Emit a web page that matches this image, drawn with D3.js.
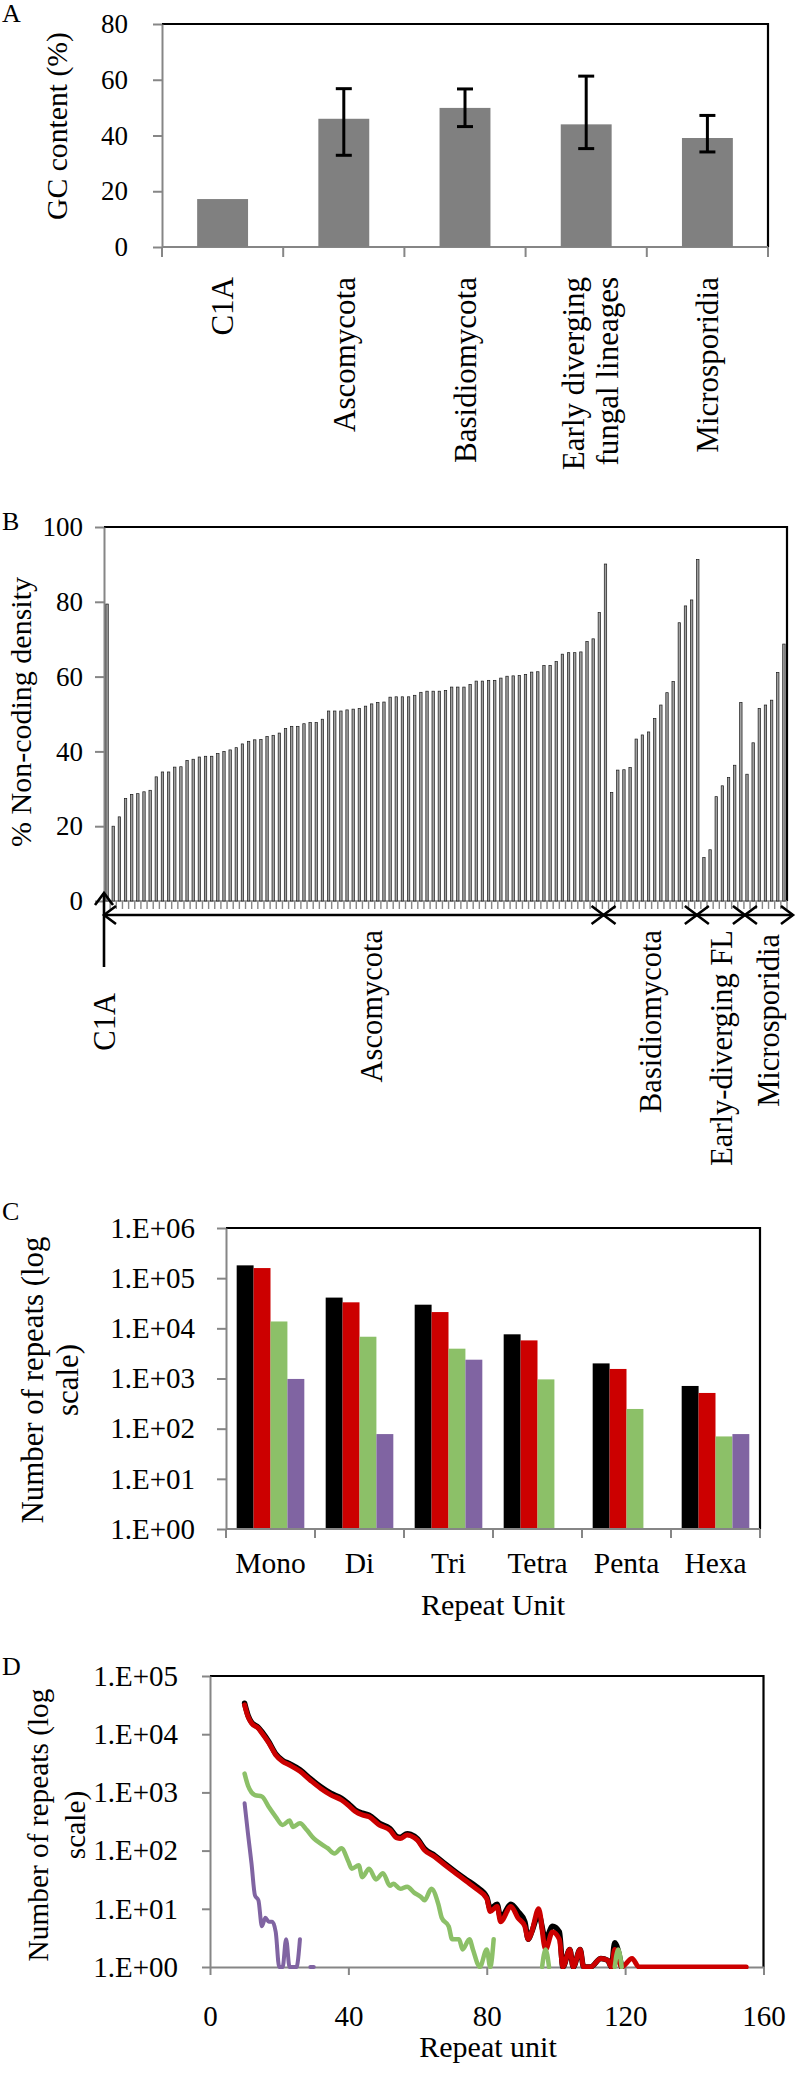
<!DOCTYPE html>
<html><head><meta charset="utf-8">
<script src="https://cdn.jsdelivr.net/npm/d3@7"></script>
<style>
body{margin:0;background:#fff}
svg text{font-family:"Liberation Serif","Times New Roman",serif;fill:#000}
</style></head><body>
<svg id="fig" width="800" height="2079"></svg>
<script>
// ---------- Panel A data ----------
const gcCategories = ["C1A","Ascomycota","Basidiomycota","Early diverging|fungal lineages","Microsporidia"];
const gcMean = [17.2, 46.0, 49.9, 44.0, 39.1];
const gcHigh = [null, 56.8, 56.7, 61.3, 47.2];
const gcLow  = [null, 32.9, 43.2, 35.3, 34.1];
const gcTicks = [0, 20, 40, 60, 80];

// ---------- Panel B data ----------
const ncGroups = ["C1A","Ascomycota","Basidiomycota","Early-diverging FL","Microsporidia"];
const ncC1A = [79.4];
const ncAscomycota = [20.0,22.5,27.4,28.5,28.7,29.2,29.6,33.2,34.5,34.5,35.8,35.9,37.6,37.9,38.5,38.7,38.7,39.4,40.0,40.4,
  41.0,42.0,42.7,43.1,43.2,44.0,44.3,44.9,46.1,46.7,46.7,47.4,47.7,47.7,48.6,50.8,50.8,50.8,51.1,51.3,
  51.5,52.1,52.7,53.1,53.2,54.5,54.6,54.6,54.6,55.0,55.8,
  56.1,56.1,56.1,56.3,57.2,57.2,57.2,57.9,58.8,58.8,59.0,59.0,59.6,60.1,60.2,60.3,60.6,61.2,61.3,63.0,
  63.0,64.0,66.0,66.4,66.4,66.6,69.4,70.1,77.1,90.1];
const ncBasidiomycota = [29.0,35.0,35.1,35.7,43.3,44.4,45.2,48.8,52.4,55.7,58.7,74.4,78.9,80.5,91.3];
const ncEarlyFL = [11.6,13.7,27.9,30.8,33.0,36.3,53.1];
const ncMicrosporidia = [33.9,42.3,51.5,52.4,53.7,61.1,68.7];
const ncTicks = [0, 20, 40, 60, 80, 100];

// ---------- Panel C data ----------
const repeatUnits = ["Mono","Di","Tri","Tetra","Penta","Hexa"];
const repBlack  = [180000, 41000, 29600, 7600, 2000, 710];
const repRed    = [159000, 33000, 21100, 5750, 1550, 515];
const repGreen  = [13700, 6800, 3930, 960, 247, 70];
const repPurple = [980, 78, 2370, null, null, 78];
const logTicksC = [1, 10, 100, 1000, 10000, 100000, 1000000];

// ---------- Panel D data ([repeat unit, number of repeats]) ----------
const lenBlack = [[10,34000],[11,21000],[12,16000],[14,13000],[15,11000],[17,7400],[19,4600],[21,3550],[23,3100],[26,2450],
  [29,1720],[32,1250],[35,960],[38,790],[40,640],[42,500],[44,440],[46,405],[49,295],[52,240],[54,175],[55,170],[57,195],
  [58,190],[60,158],[62,108],[65,82],[68,59],[71,43],[74,32],[77,24],[80,16],[81,10],[83,12],[84,7],[87,12],[89,9],
  [91,6],[92,3],[93,4],[95,8],[97,3],[99,5],[101,4],[102,1],[104,2],[105,1],[107,2],[108,1],[110,1],[113,1.4],[115,1.3],
  [116,1],[117,2.6],[119,1]];
const lenRed = [[10,32000],[11,20000],[12,15500],[14,12600],[15,10500],[17,7100],[19,4400],[21,3400],[23,2950],[26,2300],
  [29,1620],[32,1170],[35,900],[38,740],[40,600],[42,470],[44,410],[46,380],[49,275],[52,225],[54,165],[55,162],[57,186],
  [58,180],[60,150],[62,102],[65,78],[68,56],[71,41],[74,30],[77,22],[80,15],[81,9],[83,11],[84,6],[87,11],[89,7],
  [91,5],[92,3],[93,4],[95,10],[97,2],[99,4],[101,3],[102,1],[104,2],[105,1],[107,2],[108,1],[110,1],[113,1.4],[115,1.3],
  [116,1],[117,2],[119,1],[122,1.4],[124,1],[155,1]];
const lenGreen = [[10,2100],[11,1300],[12,1000],[13,900],[15,850],[17,560],[19,380],[21,275],[23,330],[24,255],[26,295],
  [28,225],[30,162],[32,132],[34,110],[36,89],[38,110],[40,65],[41,49],[43,56],[44,35],[46,49],[48,32],[50,41],[52,25],
  [53,27],[55,22],[57,24],[59,19],[61,16],[62,14],[64,22],[66,12],[67,7],[69,5],[70,3],[72,3],[73,2],[75,3],[76,2],
  [78,1],[80,2],[81,1],[82,3],[83,null],[96,1],[97,2],[98,1],[99,null],[117,1],[118,2],[119,1]];
const lenPurple = [[10,650],[11,190],[12,60],[13,17],[14,14],[15,5],[16,7],[17,6],[18,6],[19,4],[20,1],[21,1],[22,3],
  [23,1],[24,1],[25,1],[26,3],[27,null],[29,1],[30,1]];
const lenTicks = [0, 40, 80, 120, 160];
const logTicksD = [1, 10, 100, 1000, 10000, 100000];

// ---------- styles ----------
const GREY = "#868686", C_BLACK = "#000000", C_RED = "#cc0000", C_GREEN = "#8cc068", C_PURPLE = "#8064a2";
const SERIF = '"Liberation Serif","Times New Roman",serif';
const svg = d3.select("#fig");
const expFmt = d => "1.E+" + String(Math.round(Math.log10(d))).padStart(2, "0");

function styleAxis(g, fs) {
  g.attr("font-family", SERIF);
  g.select(".domain").attr("stroke", GREY).attr("stroke-width", 2);
  g.selectAll(".tick line").attr("stroke", GREY).attr("stroke-width", 2);
  g.selectAll(".tick text").attr("font-size", fs).attr("fill", "#000").attr("font-family", SERIF);
}
function frame(x0, x1, y0, y1) {
  svg.append("path").attr("d", `M${x0},${y0}H${x1}V${y1}`).attr("fill", "none")
    .attr("stroke", "#000").attr("stroke-width", 2.2);
}
function panelLetter(t, y) {
  svg.append("text").attr("x", 2).attr("y", y).attr("font-size", 26).text(t);
}
// font size that makes `str` measure `target` px long
function fitSize(str, target, base) {
  const t = svg.append("text").attr("font-size", base).attr("font-family", SERIF).text(str);
  const L = t.node().getComputedTextLength();
  t.remove();
  return L > 0 ? base * target / L : base;
}
function vLabel(lines, x, y, fs) {
  lines.forEach((t, i) => svg.append("text")
    .attr("transform", `translate(${x[i]},${y}) rotate(-90)`)
    .attr("text-anchor", "middle").attr("dy", "0.35em").attr("font-size", fs).text(t));
}

// ================= Panel A =================
{
  const xA = d3.scaleBand().domain(gcCategories).range([162, 768]);
  const yA = d3.scaleLinear().domain([0, 80]).range([247, 24]);
  panelLetter("A", 22);
  frame(xA.range()[0], xA.range()[1], yA(80), yA(0));
  const gy = svg.append("g").attr("transform", `translate(${xA.range()[0]},0)`)
    .call(d3.axisLeft(yA).tickValues(gcTicks).tickSize(9).tickSizeOuter(0).tickPadding(25));
  styleAxis(gy, 27);
  svg.append("line").attr("x1", xA.range()[0]).attr("x2", xA.range()[1]).attr("y1", yA(0)).attr("y2", yA(0))
    .attr("stroke", GREY).attr("stroke-width", 2);
  const bounds = gcCategories.map(c => xA(c)).concat([xA.range()[1]]);
  svg.selectAll(".tA").data(bounds).join("line").attr("x1", d => d).attr("x2", d => d)
    .attr("y1", yA(0)).attr("y2", yA(0) + 10).attr("stroke", GREY).attr("stroke-width", 2);
  const bw = xA.bandwidth() * 0.42;
  svg.selectAll(".barA").data(gcCategories).join("rect")
    .attr("x", d => xA(d) + (xA.bandwidth() - bw) / 2).attr("width", bw)
    .attr("y", (d, i) => yA(gcMean[i])).attr("height", (d, i) => yA(0) - yA(gcMean[i]))
    .attr("fill", "#808080");
  gcCategories.forEach((c, i) => {
    if (gcHigh[i] == null) return;
    const cx = xA(c) + xA.bandwidth() / 2;
    const g = svg.append("g").attr("stroke", "#000").attr("stroke-width", 3);
    g.append("line").attr("x1", cx).attr("x2", cx).attr("y1", yA(gcHigh[i])).attr("y2", yA(gcLow[i]));
    [gcHigh[i], gcLow[i]].forEach(v => g.append("line").attr("x1", cx - 8).attr("x2", cx + 8)
      .attr("y1", yA(v)).attr("y2", yA(v)));
  });
  const catFs = fitSize("Ascomycota", 155, 30);
  gcCategories.forEach(c => {
    const lines = c.split("|");
    const cx = xA(c) + xA.bandwidth() / 2;
    lines.forEach((t, i) => {
      const x = cx + (i - (lines.length - 1) / 2) * 34 + (lines.length > 1 ? 4 : 0);
      svg.append("text").attr("transform", `translate(${x},${277}) rotate(-90)`)
        .attr("text-anchor", "end").attr("dy", "0.35em").attr("font-size", catFs).text(t);
    });
  });
  vLabel(["GC content (%)"], [57], 126, fitSize("GC content (%)", 188, 30));
}

// ================= Panel B =================
{
  const groupsData = [ncC1A, ncAscomycota, ncBasidiomycota, ncEarlyFL, ncMicrosporidia];
  const bars = [];
  groupsData.forEach((arr, g) => arr.forEach(v => bars.push({ g, v })));
  const xB = d3.scaleBand().domain(d3.range(bars.length)).range([104, 787]);
  const yB = d3.scaleLinear().domain([0, 100]).range([901, 527]);
  panelLetter("B", 530);
  frame(104, 787, yB(100), yB(0));
  const gy = svg.append("g").attr("transform", "translate(104,0)")
    .call(d3.axisLeft(yB).tickValues(ncTicks).tickSize(9).tickSizeOuter(0).tickPadding(12));
  styleAxis(gy, 27);
  const step = xB.step();
  svg.selectAll(".tB").data(d3.range(bars.length + 1)).join("line")
    .attr("x1", i => 104 + i * step).attr("x2", i => 104 + i * step)
    .attr("y1", yB(0)).attr("y2", yB(0) + 8).attr("stroke", GREY).attr("stroke-width", 1.4);
  svg.append("line").attr("x1", 104).attr("x2", 787).attr("y1", yB(0)).attr("y2", yB(0))
    .attr("stroke", GREY).attr("stroke-width", 1.5);
  const w = 2.4;
  svg.selectAll(".barB").data(bars).join("rect")
    .attr("x", (d, i) => xB(i) + (step - w) / 2).attr("width", w)
    .attr("y", d => yB(d.v)).attr("height", d => yB(0) - yB(d.v))
    .attr("fill", "#a0a0a0").attr("stroke", "#1a1a1a").attr("stroke-width", 0.7);
  const starts = []; let k = 0;
  groupsData.forEach(a => { starts.push(k); k += a.length; });
  const ay = 915, hl = 12, hw = 9;
  const segs = [
    [104, 104 + starts[2] * step - 5],
    [104 + starts[2] * step - 5, 104 + starts[3] * step - 4],
    [104 + starts[3] * step - 4, 104 + starts[4] * step + 1],
    [104 + starts[4] * step + 1, 793]
  ];
  const ag = svg.append("g").attr("stroke", "#000").attr("stroke-width", 2.6).attr("fill", "none");
  segs.forEach(([a, b]) => {
    ag.append("line").attr("x1", a).attr("x2", b).attr("y1", ay).attr("y2", ay);
    ag.append("path").attr("d", `M${a + hl},${ay - hw}L${a},${ay}L${a + hl},${ay + hw}`);
    ag.append("path").attr("d", `M${b - hl},${ay - hw}L${b},${ay}L${b - hl},${ay + hw}`);
  });
  ag.append("line").attr("x1", 104).attr("x2", 104).attr("y1", 967).attr("y2", 893);
  ag.append("path").attr("d", `M${104 - hw},${893 + hl}L104,893L${104 + hw},${893 + hl}`);
  const labX = [104, (segs[0][0] + segs[0][1]) / 2 + 18, (segs[1][0] + segs[1][1]) / 2,
    (segs[2][0] + segs[2][1]) / 2, (segs[3][0] + segs[3][1]) / 2 - 1];
  const labTop = [993, 930, 930, 930, 934];
  const grpFs = fitSize("Basidiomycota", 183, 30);
  ncGroups.forEach((t, i) => svg.append("text")
    .attr("transform", `translate(${labX[i]},${labTop[i]}) rotate(-90)`)
    .attr("text-anchor", "end").attr("dy", "0.35em").attr("font-size", grpFs).text(t));
  vLabel(["% Non-coding density"], [20], 712, fitSize("% Non-coding density", 270, 28));
}

// ================= Panel C =================
{
  const series = [repBlack, repRed, repGreen, repPurple];
  const colors = [C_BLACK, C_RED, C_GREEN, C_PURPLE];
  const xC = d3.scaleBand().domain(repeatUnits).range([226, 760]);
  const x1 = d3.scaleBand().domain(d3.range(4)).range([xC.bandwidth() * 0.12, xC.bandwidth() * 0.88]);
  const yC = d3.scaleLog().domain([1, 1e6]).range([1529, 1228]);
  panelLetter("C", 1220);
  frame(226, 760, yC(1e6), yC(1));
  series.forEach((s, si) => {
    svg.selectAll(".barC" + si).data(repeatUnits.filter((u, i) => s[i] != null)).join("rect")
      .attr("x", u => xC(u) + x1(si)).attr("width", x1.bandwidth())
      .attr("y", u => yC(s[repeatUnits.indexOf(u)]))
      .attr("height", u => yC(1) - yC(s[repeatUnits.indexOf(u)]))
      .attr("fill", colors[si]);
  });
  const gy = svg.append("g").attr("transform", "translate(226,0)")
    .call(d3.axisLeft(yC).tickValues(logTicksC).tickFormat(expFmt).tickSize(9).tickSizeOuter(0).tickPadding(22));
  styleAxis(gy, 29);
  svg.append("line").attr("x1", 226).attr("x2", 760).attr("y1", yC(1)).attr("y2", yC(1))
    .attr("stroke", GREY).attr("stroke-width", 2);
  const bounds = repeatUnits.map(u => xC(u)).concat([760]);
  svg.selectAll(".tC").data(bounds).join("line").attr("x1", d => d).attr("x2", d => d)
    .attr("y1", yC(1)).attr("y2", yC(1) + 9).attr("stroke", GREY).attr("stroke-width", 2);
  svg.selectAll(".lC").data(repeatUnits).join("text")
    .attr("x", u => xC(u) + xC.bandwidth() / 2).attr("y", 1573)
    .attr("text-anchor", "middle").attr("font-size", 29.5).text(u => u);
  svg.append("text").attr("x", 493).attr("y", 1615).attr("text-anchor", "middle")
    .attr("font-size", 30).text("Repeat Unit");
  vLabel(["Number of repeats (log", "scale)"], [32, 67], 1380, fitSize("Number of repeats (log", 287, 30));
}

// ================= Panel D =================
{
  const xD = d3.scaleLinear().domain([0, 160]).range([210, 763.5]);
  const yD = d3.scaleLog().domain([1, 1e5]).range([1967, 1676]);
  panelLetter("D", 1675);
  frame(210, 763.5, yD(1e5), yD(1));
  const gy = svg.append("g").attr("transform", "translate(210,0)")
    .call(d3.axisLeft(yD).tickValues(logTicksD).tickFormat(expFmt).tickSize(8).tickSizeOuter(0).tickPadding(24));
  styleAxis(gy, 29);
  const gx = svg.append("g").attr("transform", `translate(0,${yD(1)})`)
    .call(d3.axisBottom(xD).tickValues(lenTicks).tickSize(8).tickSizeOuter(0).tickPadding(30));
  styleAxis(gx, 29);
  gx.selectAll(".tick text").attr("dy", "0.71em");
  svg.append("text").attr("x", 488).attr("y", 2057).attr("text-anchor", "middle")
    .attr("font-size", 30).text("Repeat unit");
  svg.append("clipPath").attr("id", "clipD").append("rect")
    .attr("x", 210).attr("y", 1670).attr("width", 560).attr("height", 1967 - 1670 + 2);
  const line = d3.line().defined(d => d[1] != null).curve(d3.curveMonotoneX)
    .x(d => xD(d[0])).y(d => yD(d[1]));
  const lg = svg.append("g").attr("clip-path", "url(#clipD)");
  [[lenBlack, C_BLACK, 5.5], [lenRed, C_RED, 5], [lenGreen, C_GREEN, 4.5], [lenPurple, C_PURPLE, 4]]
    .forEach(([data, col, sw]) => lg.append("path").datum(data).attr("d", line)
      .attr("fill", "none").attr("stroke", col).attr("stroke-width", sw)
      .attr("stroke-linejoin", "round").attr("stroke-linecap", "round"));
  vLabel(["Number of repeats (log", "scale)"], [38, 75], 1825, fitSize("Number of repeats (log", 273, 30));
}
</script>
</body></html>
